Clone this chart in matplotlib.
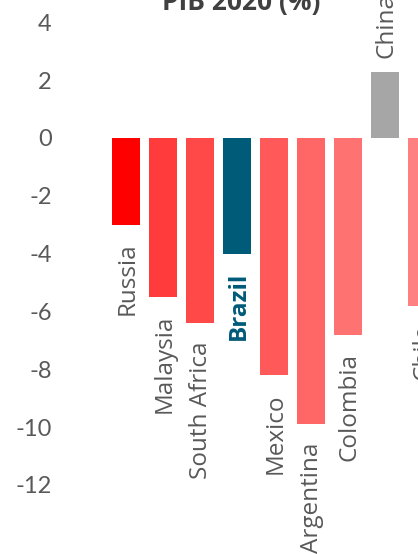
import matplotlib
matplotlib.use("Agg")
import matplotlib.pyplot as plt

# PIB 2020 (%) — variação por país
countries = ["Russia", "Malaysia", "South Africa", "Brazil", "Mexico",
             "Argentina", "Colombia", "China", "Chile"]
gdp_2020 = [-3.0, -5.5, -6.4, -4.0, -8.2, -9.9, -6.8, 2.3, -5.8]
colors = ["#FF0000", "#FF3B3B", "#FF4949", "#005B78", "#FF5959",
          "#FF6666", "#FF7272", "#A6A6A6", "#FF8080"]
yticks = [4, 2, 0, -2, -4, -6, -8, -10, -12]

W, H, DPI = 418, 554, 100
fig = plt.figure(figsize=(W / DPI, H / DPI), dpi=DPI)
ax_left = 60
ax = fig.add_axes([ax_left / W, 0, 1 - ax_left / W, 1])

x = list(range(len(countries)))
ax.bar(x, gdp_2020, width=0.78, color=colors)

# escala: barra 0 centrada em 126 px, passo 37 px; zero em 138 px, 28.9 px/unidade
step, x0 = 37.0, 126.0
ax.set_xlim(-(x0 - ax_left) / step, (W - x0) / step)
ppu, zero_px = 28.9, 138.0
ax.set_ylim(-(H - zero_px) / ppu, zero_px / ppu)

ax.set_yticks(yticks)
ax.set_yticklabels([str(v) for v in yticks], family="Lato", fontsize=17, color="#595959")
ax.tick_params(axis="y", length=0, pad=6)
ax.set_xticks([])
for sp in ax.spines.values():
    sp.set_visible(False)

for xi, name, v in zip(x, countries, gdp_2020):
    is_br = name == "Brazil"
    ax.annotate(name, (xi, v), xytext=(1, -13 if v < 0 else 10),
                textcoords="offset points", rotation=90,
                ha="center", va="top" if v < 0 else "bottom",
                family="Open Sans", fontsize=17.5,
                fontweight="bold" if is_br else "normal",
                color="#005B78" if is_br else "#595959",
                annotation_clip=False)

fig.text(241 / W, 1 - 10 / H, "PIB 2020 (%)", ha="center", va="baseline",
         family="Open Sans", fontsize=19, fontweight="bold", color="#404040")

fig.savefig("out.png", dpi=DPI)
